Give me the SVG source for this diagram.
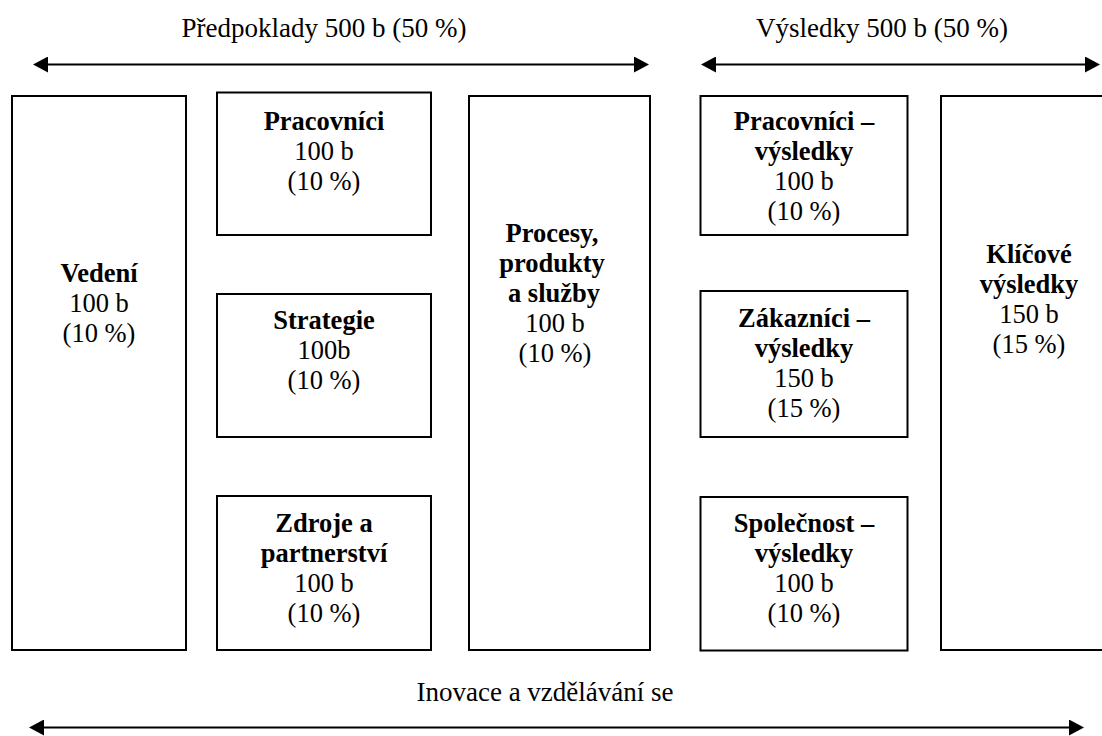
<svg xmlns="http://www.w3.org/2000/svg" width="1102" height="736" viewBox="0 0 1102 736">
<style>
text{font-family:"Liberation Serif","Times New Roman",serif;font-size:26.5px;fill:#000;text-anchor:middle}
.b{font-weight:bold}
.t{font-size:27px}
.box{fill:#fff;stroke:#000;stroke-width:2}
.arr{stroke:#000;stroke-width:2;fill:none;marker-start:url(#ah);marker-end:url(#ah)}
</style>
<defs>
<marker id="ah" viewBox="0 0 15 16" refX="1" refY="8" markerWidth="15" markerHeight="16" markerUnits="userSpaceOnUse" orient="auto-start-reverse">
<path d="M0,0 L15,8 L0,16 z" fill="#000"/>
</marker>
</defs>
<rect width="1102" height="736" fill="#fff"/>
<g id="labels">
<text class="t" x="324" y="37">Předpoklady 500 b (50 %)</text>
<text class="t" x="882" y="37">Výsledky 500 b (50 %)</text>
<text class="t" x="545" y="701">Inovace a vzdělávání se</text>
</g>
<g id="connectors">
<line class="arr" x1="47" y1="64.5" x2="635" y2="64.5"/>
<line class="arr" x1="715" y1="64.5" x2="1086" y2="64.5"/>
<line class="arr" x1="43" y1="727.5" x2="1070" y2="727.5"/>
</g>
<g id="vedeni">
<rect class="box" x="12" y="96" width="174" height="554"/>
<text class="b" x="99" y="282">Vedení</text>
<text x="99" y="312">100 b</text>
<text x="99" y="342">(10 %)</text>
</g>
<g id="pracovnici">
<rect class="box" x="217" y="92.5" width="214" height="142.5"/>
<text class="b" x="324" y="130">Pracovníci</text>
<text x="324" y="160">100 b</text>
<text x="324" y="190">(10 %)</text>
</g>
<g id="strategie">
<rect class="box" x="217" y="294" width="214" height="143"/>
<text class="b" x="324" y="329">Strategie</text>
<text x="324" y="359">100b</text>
<text x="324" y="389">(10 %)</text>
</g>
<g id="zdroje">
<rect class="box" x="217" y="496" width="214" height="154"/>
<text class="b" x="324" y="532">Zdroje a</text>
<text class="b" x="324" y="562">partnerství</text>
<text x="324" y="592">100 b</text>
<text x="324" y="622">(10 %)</text>
</g>
<g id="procesy">
<rect class="box" x="469" y="96" width="181" height="554"/>
<text class="b" x="552" y="242">Procesy,</text>
<text class="b" x="552" y="272">produkty</text>
<text class="b" x="554" y="302">a služby</text>
<text x="555" y="332">100 b</text>
<text x="555" y="362">(10 %)</text>
</g>
<g id="pracovnici-vysledky">
<rect class="box" x="700.5" y="96" width="207" height="139"/>
<text class="b" x="804" y="130">Pracovníci –</text>
<text class="b" x="804" y="160">výsledky</text>
<text x="804" y="190">100 b</text>
<text x="804" y="220">(10 %)</text>
</g>
<g id="zakaznici-vysledky">
<rect class="box" x="700.5" y="291" width="207" height="146"/>
<text class="b" x="804" y="327">Zákazníci –</text>
<text class="b" x="804" y="357">výsledky</text>
<text x="804" y="387">150 b</text>
<text x="804" y="417">(15 %)</text>
</g>
<g id="spolecnost-vysledky">
<rect class="box" x="700.5" y="497" width="207" height="153.5"/>
<text class="b" x="804" y="532">Společnost –</text>
<text class="b" x="804" y="562">výsledky</text>
<text x="804" y="592">100 b</text>
<text x="804" y="622">(10 %)</text>
</g>
<g id="klicove-vysledky">
<rect class="box" x="941" y="96" width="180" height="554"/>
<text class="b" x="1029" y="263">Klíčové</text>
<text class="b" x="1029" y="293">výsledky</text>
<text x="1029" y="323">150 b</text>
<text x="1029" y="353">(15 %)</text>
</g>
</svg>
